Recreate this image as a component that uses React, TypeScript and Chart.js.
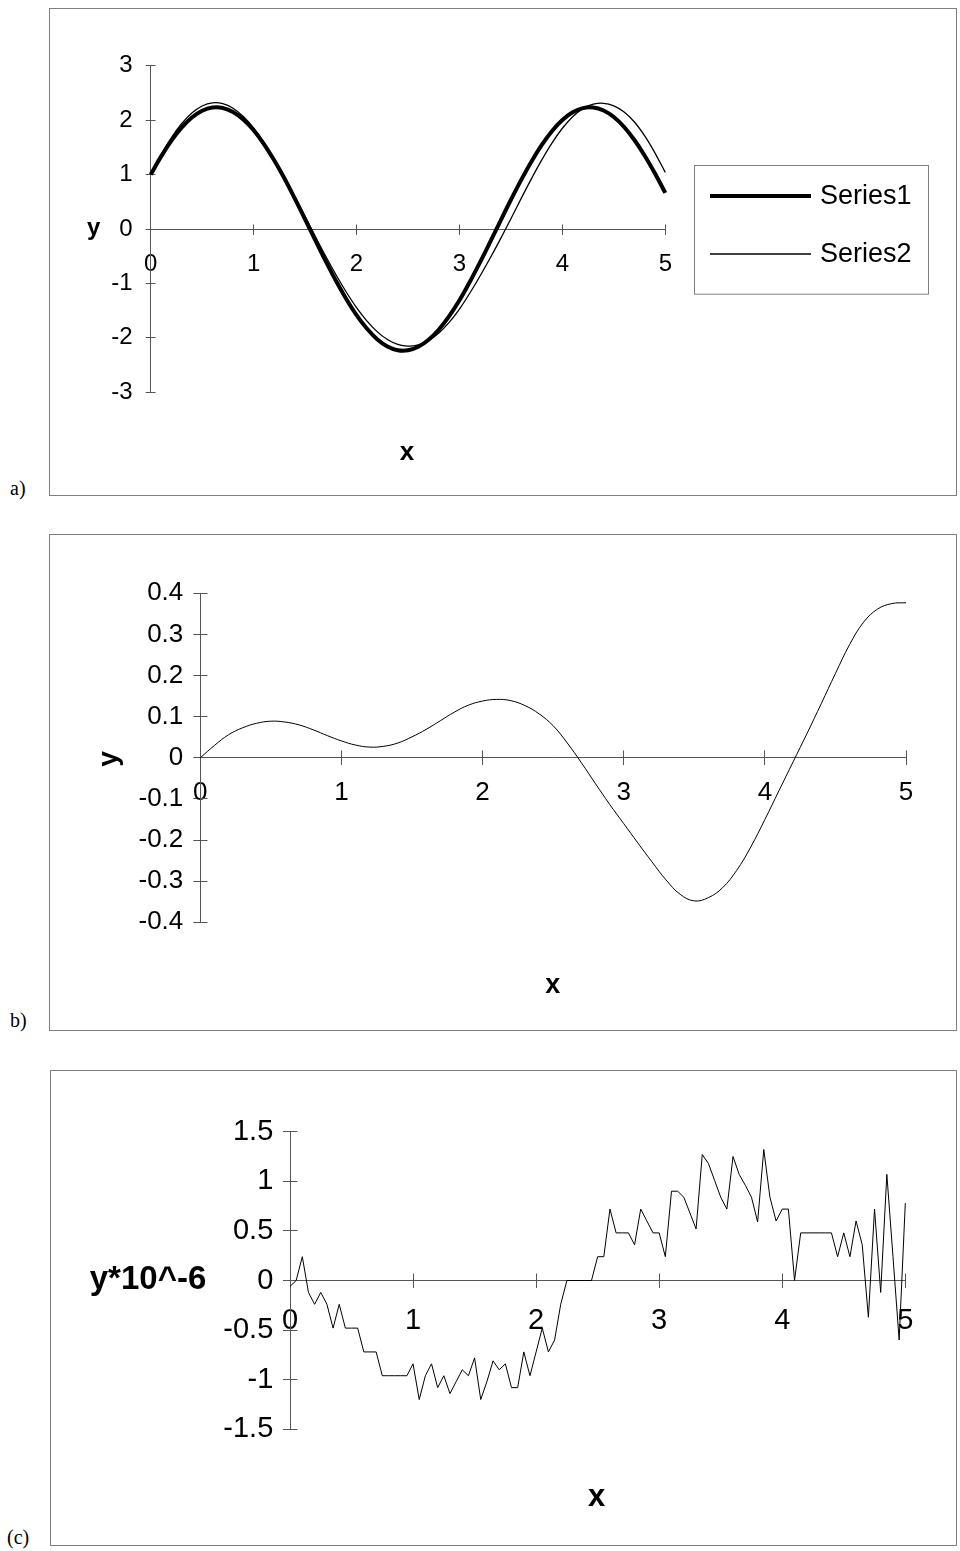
import React, { useEffect, useRef } from 'react';
import { Chart, registerables } from 'chart.js';

Chart.register(...registerables);

const FONT = "'Liberation Sans', Arial, Helvetica, sans-serif";
const AXIS = '#555555';
const FRAME = '#808080';

// ---------- data ----------
const X_AB = [
  0, 0.1, 0.2, 0.3, 0.4, 0.5, 0.6, 0.7, 0.8, 0.9,
  1, 1.1, 1.2, 1.3, 1.4, 1.5, 1.6, 1.7, 1.8, 1.9,
  2, 2.1, 2.2, 2.3, 2.4, 2.5, 2.6, 2.7, 2.8, 2.9,
  3, 3.1, 3.2, 3.3, 3.4, 3.5, 3.6, 3.7, 3.8, 3.9,
  4, 4.1, 4.2, 4.3, 4.4, 4.5, 4.6, 4.7, 4.8, 4.9, 5,
];

const SERIES1 = [
  1.0, 1.33, 1.62, 1.861, 2.047, 2.171, 2.231, 2.224, 2.15, 2.012,
  1.814, 1.561, 1.262, 0.928, 0.56, 0.179, -0.208, -0.589, -0.952, -1.285,
  -1.582, -1.829, -2.024, -2.158, -2.227, -2.229, -2.164, -2.036, -1.846, -1.602,
  -1.31, -0.973, -0.611, -0.232, 0.155, 0.537, 0.903, 1.242, 1.544, 1.8,
  2.001, 2.143, 2.221, 2.232, 2.177, 2.057, 1.874, 1.635, 1.347, 1.02, 0.663,
];

const SERIES2 = [
  1.0, 1.36, 1.676, 1.934, 2.131, 2.26, 2.318, 2.304, 2.218, 2.066,
  1.855, 1.592, 1.288, 0.956, 0.596, 0.23, -0.139, -0.499, -0.841, -1.157,
  -1.444, -1.687, -1.885, -2.031, -2.12, -2.151, -2.128, -2.048, -1.909, -1.715,
  -1.47, -1.18, -0.864, -0.529, -0.177, 0.189, 0.563, 0.926, 1.27, 1.583,
  1.851, 2.063, 2.211, 2.292, 2.309, 2.262, 2.149, 1.965, 1.709, 1.395, 1.04,
];

const ERR_B = [
  0, 0.03, 0.056, 0.073, 0.084, 0.089, 0.087, 0.08, 0.068, 0.054,
  0.041, 0.031, 0.026, 0.028, 0.036, 0.051, 0.069, 0.09, 0.111, 0.128,
  0.138, 0.142, 0.139, 0.127, 0.107, 0.078, 0.036, -0.012, -0.063, -0.113,
  -0.16, -0.207, -0.253, -0.297, -0.332, -0.348, -0.34, -0.316, -0.274, -0.217,
  -0.15, -0.08, -0.01, 0.06, 0.132, 0.205, 0.275, 0.33, 0.362, 0.375, 0.377,
];

const X_C = [
  0, 0.05, 0.1, 0.15, 0.2, 0.25, 0.3, 0.35, 0.4, 0.45,
  0.5, 0.55, 0.6, 0.65, 0.7, 0.75, 0.8, 0.85, 0.9, 0.95,
  1, 1.05, 1.1, 1.15, 1.2, 1.25, 1.3, 1.35, 1.4, 1.45,
  1.5, 1.55, 1.6, 1.65, 1.7, 1.75, 1.8, 1.85, 1.9, 1.95,
  2, 2.05, 2.1, 2.15, 2.2, 2.25, 2.3, 2.35, 2.4, 2.45,
  2.5, 2.55, 2.6, 2.65, 2.7, 2.75, 2.8, 2.85, 2.9, 2.95,
  3, 3.05, 3.1, 3.15, 3.2, 3.25, 3.3, 3.35, 3.4, 3.45,
  3.5, 3.55, 3.6, 3.65, 3.7, 3.75, 3.8, 3.85, 3.9, 3.95,
  4, 4.05, 4.1, 4.15, 4.2, 4.25, 4.3, 4.35, 4.4, 4.45,
  4.5, 4.55, 4.6, 4.65, 4.7, 4.75, 4.8, 4.85, 4.9, 4.95, 5,
];

const ERR_C = [
  -0.06, 0, 0.24, -0.12, -0.24, -0.12, -0.24, -0.48, -0.24, -0.48,
  -0.48, -0.48, -0.72, -0.72, -0.72, -0.96, -0.96, -0.96, -0.96, -0.96,
  -0.84, -1.2, -0.96, -0.84, -1.08, -0.96, -1.14, -1.02, -0.9, -0.96,
  -0.78, -1.2, -1.02, -0.81, -0.9, -0.84, -1.08, -1.08, -0.72, -0.96,
  -0.72, -0.48, -0.72, -0.6, -0.24, 0, 0, 0, 0, 0,
  0.24, 0.24, 0.72, 0.48, 0.48, 0.48, 0.36, 0.72, 0.6, 0.48,
  0.48, 0.24, 0.9, 0.9, 0.84, 0.68, 0.52, 1.27, 1.18, 1.01,
  0.84, 0.72, 1.25, 1.07, 0.96, 0.84, 0.59, 1.32, 0.84, 0.6,
  0.72, 0.72, 0, 0.48, 0.48, 0.48, 0.48, 0.48, 0.48, 0.24,
  0.48, 0.24, 0.6, 0.36, -0.37, 0.72, -0.12, 1.07, 0.24, -0.6, 0.78,
];

const SERIES_LABELS = ['Series1', 'Series2'];

const X_TICKS = [0, 1, 2, 3, 4, 5];
const X_TICK_LABELS = ['0', '1', '2', '3', '4', '5'];
const Y_TICKS_A = [-3, -2, -1, 0, 1, 2, 3];
const Y_TICK_LABELS_A = ['-3', '-2', '-1', '0', '1', '2', '3'];
const Y_TICKS_B = [-0.4, -0.3, -0.2, -0.1, 0, 0.1, 0.2, 0.3, 0.4];
const Y_TICK_LABELS_B = ['-0.4', '-0.3', '-0.2', '-0.1', '0', '0.1', '0.2', '0.3', '0.4'];
const Y_TICKS_C = [-1.5, -1, -0.5, 0, 0.5, 1, 1.5];
const Y_TICK_LABELS_C = ['-1.5', '-1', '-0.5', '0', '0.5', '1', '1.5'];

// ---------- helpers ----------
type AxisOpts = {
  yTicks: number[];
  yLabels: string[];
  size: number;
  tl: number;
  xPad: number;
  yPad: number;
};

function makeScales(o: AxisOpts): any {
  const grid = { drawOnChartArea: false, drawTicks: true, tickLength: o.tl, color: AXIS, lineWidth: 1 };
  const border = { display: true, color: AXIS, width: 1 };
  return {
    x: {
      type: 'linear',
      min: X_TICKS[0],
      max: X_TICKS[X_TICKS.length - 1],
      position: { y: 0 },
      afterBuildTicks: (s: any) => {
        s.ticks = X_TICKS.map((v) => ({ value: v }));
      },
      ticks: {
        callback: (v: number) => X_TICK_LABELS[X_TICKS.indexOf(v)],
        font: { family: FONT, size: o.size },
        color: '#000',
        padding: o.xPad,
        maxRotation: 0,
        autoSkip: false,
      },
      grid,
      border,
    },
    y: {
      type: 'linear',
      min: o.yTicks[0],
      max: o.yTicks[o.yTicks.length - 1],
      position: 'left',
      afterBuildTicks: (s: any) => {
        s.ticks = o.yTicks.map((v) => ({ value: v }));
      },
      afterFit: (s: any) => {
        s.width = 90;
      },
      ticks: {
        callback: (v: number) => o.yLabels[o.yTicks.indexOf(v)],
        font: { family: FONT, size: o.size },
        color: '#000',
        padding: o.yPad,
        autoSkip: false,
      },
      grid,
      border,
    },
  };
}

const align = (p: number) => Math.round(p - 0.5) + 0.5;

const innerTicksPlugin = {
  id: 'innerTicks',
  beforeDatasetsDraw(chart: any) {
    const { ctx } = chart;
    const xs = chart.scales.x;
    const ys = chart.scales.y;
    const tl = chart.options.scales.x.grid.tickLength;
    const y0 = align(ys.getPixelForValue(0));
    const x0 = align(xs.getPixelForValue(0));
    ctx.save();
    ctx.strokeStyle = AXIS;
    ctx.lineWidth = 1;
    ctx.beginPath();
    xs.ticks.forEach((t: any) => {
      const px = align(xs.getPixelForValue(t.value));
      ctx.moveTo(px, y0);
      ctx.lineTo(px, y0 - tl);
    });
    ys.ticks.forEach((t: any) => {
      const py = align(ys.getPixelForValue(t.value));
      ctx.moveTo(x0, py);
      ctx.lineTo(x0 + tl, py);
    });
    ctx.stroke();
    ctx.restore();
  },
};

type TextItem = { text: string; x: number; y: number; font: string; rotate?: number };
type LegendBox = {
  x: number; y: number; w: number; h: number;
  lineX1: number; lineX2: number; rows: number[]; textX: number; font: string;
};

function decorPlugin(texts: TextItem[], legend?: LegendBox) {
  return {
    id: 'decor',
    afterDraw(chart: any) {
      const { ctx, width, height } = chart;
      ctx.save();
      ctx.strokeStyle = FRAME;
      ctx.lineWidth = 1;
      ctx.strokeRect(0.5, 0.5, width - 1, height - 1);
      ctx.fillStyle = '#000';
      texts.forEach((t) => {
        ctx.save();
        ctx.translate(t.x, t.y);
        if (t.rotate) ctx.rotate((t.rotate * Math.PI) / 180);
        ctx.font = t.font;
        ctx.textAlign = 'center';
        ctx.textBaseline = 'alphabetic';
        ctx.fillText(t.text, 0, 0);
        ctx.restore();
      });
      if (legend) {
        ctx.strokeStyle = FRAME;
        ctx.lineWidth = 1;
        ctx.strokeRect(Math.round(legend.x) + 0.5, Math.round(legend.y) + 0.5, legend.w, legend.h);
        chart.data.datasets.forEach((ds: any, i: number) => {
          const ly = legend.rows[i];
          ctx.beginPath();
          ctx.strokeStyle = ds.borderColor;
          ctx.lineWidth = ds.borderWidth;
          ctx.moveTo(legend.lineX1, ly);
          ctx.lineTo(legend.lineX2, ly);
          ctx.stroke();
          ctx.fillStyle = '#000';
          ctx.font = legend.font;
          ctx.textAlign = 'left';
          ctx.textBaseline = 'middle';
          ctx.fillText(ds.label, legend.textX, ly + 1);
        });
      }
      ctx.restore();
    },
  };
}

const pts = (xs: number[], ys: number[]) => xs.map((x, i) => ({ x, y: ys[i] }));

const baseOptions = (padding: any) => ({
  responsive: false,
  animation: false,
  events: [],
  layout: { padding },
  plugins: { legend: { display: false }, tooltip: { enabled: false } },
});

function configA(): any {
  return {
    type: 'line',
    data: {
      datasets: [
        {
          label: SERIES_LABELS[0], data: pts(X_AB, SERIES1), borderColor: '#000', borderWidth: 4,
          pointRadius: 0, tension: 0.4, fill: false, clip: false,
        },
        {
          label: SERIES_LABELS[1], data: pts(X_AB, SERIES2), borderColor: '#000', borderWidth: 1.3,
          pointRadius: 0, tension: 0.4, fill: false, clip: false,
        },
      ],
    },
    options: {
      ...baseOptions({ left: 11.7, right: 291.7, top: 57.7, bottom: 103.7 }),
      scales: makeScales({ yTicks: Y_TICKS_A, yLabels: Y_TICK_LABELS_A, size: 24, tl: 5, xPad: 16.1, yPad: 13 }),
    },
    plugins: [
      innerTicksPlugin,
      decorPlugin(
        [
          { text: 'y', x: 44.7, y: 227, font: `bold 24px ${FONT}` },
          { text: 'x', x: 358, y: 452, font: `bold 26px ${FONT}` },
        ],
        { x: 645.3, y: 157.3, w: 234, h: 128.7, lineX1: 661, lineX2: 762, rows: [188, 246], textX: 771, font: `27px ${FONT}` }
      ),
    ],
  };
}

function configB(): any {
  return {
    type: 'line',
    data: {
      datasets: [
        {
          label: 'error', data: pts(X_AB, ERR_B), borderColor: '#000', borderWidth: 1,
          pointRadius: 0, tension: 0.4, fill: false, clip: false,
        },
      ],
    },
    options: {
      ...baseOptions({ left: 61.3, right: 51, top: 59.3, bottom: 108.7 }),
      scales: makeScales({ yTicks: Y_TICKS_B, yLabels: Y_TICK_LABELS_B, size: 26, tl: 7, xPad: 12.1, yPad: 10 }),
    },
    plugins: [
      innerTicksPlugin,
      decorPlugin([
        { text: 'x', x: 503.8, y: 459.3, font: `bold 27px ${FONT}` },
        { text: 'y', x: 67.8, y: 225, font: `bold 28px ${FONT}`, rotate: -90 },
      ]),
    ],
  };
}

function configC(): any {
  return {
    type: 'line',
    data: {
      datasets: [
        {
          label: 'error', data: pts(X_C, ERR_C), borderColor: '#000', borderWidth: 1,
          pointRadius: 0, tension: 0, fill: false, clip: false,
        },
      ],
    },
    options: {
      ...baseOptions({ left: 150, right: 51.7, top: 61.7, bottom: 116.7 }),
      scales: makeScales({ yTicks: Y_TICKS_C, yLabels: Y_TICK_LABELS_C, size: 29, tl: 7, xPad: 15.6, yPad: 9.7 }),
    },
    plugins: [
      innerTicksPlugin,
      decorPlugin([
        { text: 'y*10^-6', x: 98, y: 219.3, font: `bold 33px ${FONT}` },
        { text: 'x', x: 546.7, y: 436, font: `bold 31px ${FONT}` },
      ]),
    ],
  };
}

const labelStyle = (left: number, top: number): React.CSSProperties => ({
  position: 'absolute',
  left,
  top,
  font: '20px "Liberation Serif", "Times New Roman", serif',
  lineHeight: '20px',
  color: '#000',
  whiteSpace: 'nowrap',
});

export default function App() {
  const refA = useRef<HTMLCanvasElement>(null);
  const refB = useRef<HTMLCanvasElement>(null);
  const refC = useRef<HTMLCanvasElement>(null);

  useEffect(() => {
    const charts: Chart[] = [];
    if (refA.current) charts.push(new Chart(refA.current, configA()));
    if (refB.current) charts.push(new Chart(refB.current, configB()));
    if (refC.current) charts.push(new Chart(refC.current, configC()));
    return () => charts.forEach((c) => c.destroy());
  }, []);

  return (
    <div style={{ position: 'absolute', left: 0, top: 0, width: 960, height: 1551, background: '#fff' }}>
      <canvas ref={refA} width={908} height={488} style={{ position: 'absolute', left: 49, top: 8, display: 'block' }} />
      <canvas ref={refB} width={908} height={497} style={{ position: 'absolute', left: 49, top: 534, display: 'block' }} />
      <canvas ref={refC} width={907} height={476} style={{ position: 'absolute', left: 50, top: 1070, display: 'block' }} />
      <div style={labelStyle(10, 478)}>a)</div>
      <div style={labelStyle(10, 1010)}>b)</div>
      <div style={labelStyle(7, 1527)}>(c)</div>
    </div>
  );
}
